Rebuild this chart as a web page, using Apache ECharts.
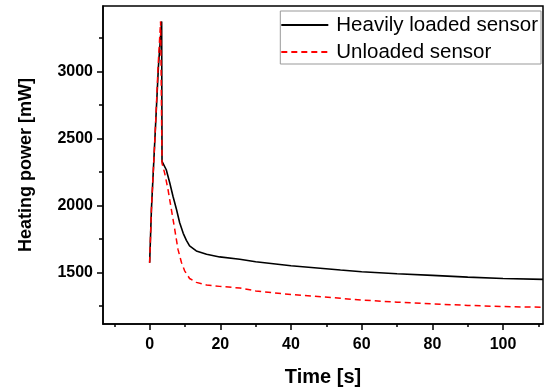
<!DOCTYPE html>
<html>
<head>
<meta charset="utf-8">
<script src="https://cdn.jsdelivr.net/npm/echarts@6/dist/echarts.min.js"></script>
<style>html,body{margin:0;padding:0;background:#fff}#c{width:545px;height:392px}</style>
</head>
<body>
<div id="c"></div>
<script>
// Time [s] and heating power [mW]
var loadedTime  = [0, 0.5, 1.6, 2.5, 3.4, 3.5, 3.8, 4.7, 5.7, 6.6, 7.6, 8.5, 9.5, 10.4, 11.3, 13.2, 16.1, 19.8, 25.5, 30, 40, 54, 60, 70, 80, 90, 100, 111.3];
var loadedPower = [1573, 1970, 2560, 3045, 3375, 2330, 2316, 2267, 2168, 2069, 1970, 1871, 1792, 1740, 1698, 1661, 1636, 1616, 1599, 1580, 1550, 1518, 1505, 1490, 1478, 1465, 1455, 1448];
var unloadedTime  = [0, 0.5, 1.6, 2.4, 3.1, 3.5, 4.25, 5.2, 6.15, 7.1, 8.0, 9.0, 9.9, 11.3, 13.2, 16.1, 19.8, 25.5, 30, 40, 54, 60, 70, 80, 90, 100, 111.3];
var unloadedPower = [1573, 1970, 2560, 3045, 3375, 2316, 2242, 2119, 1970, 1822, 1674, 1574, 1512, 1455, 1426, 1406, 1396, 1384, 1362, 1335, 1307, 1294, 1278, 1265, 1254, 1245, 1240];
var xMajorTicks = [0, 20, 40, 60, 80, 100];
var xMinorTicks = [-10, 10, 30, 50, 70, 90, 110];
var yMajorTicks = [1500, 2000, 2500, 3000];
var yMinorTicks = [1250, 1750, 2250, 2750, 3250];
var seriesNames = ['Heavily loaded sensor', 'Unloaded sensor'];

function pairs(xs, ys) { return xs.map(function (x, i) { return [x, ys[i]]; }); }

var font = 'Arial, "Liberation Sans", sans-serif';
var XMIN = -13.2, XMAX = 111.3, YMIN = 1115, YMAX = 3490;
var chart = echarts.init(document.getElementById('c'), null, {renderer: 'canvas'});
chart.setOption({
  animation: false,
  backgroundColor: '#fff',
  grid: {left: 103, right: 2, top: 6, bottom: 63, show: true, borderColor: '#000', borderWidth: 1.5, backgroundColor: 'transparent'},
  legend: {
    orient: 'vertical', right: 4, top: 11,
    padding: [3, 3, 1, 0], itemGap: 5,
    itemWidth: 47, itemHeight: 14,
    borderColor: '#999', borderWidth: 1, backgroundColor: '#fff',
    itemStyle: {opacity: 0},
    textStyle: {fontFamily: font, fontSize: 20.5, color: '#000', padding: [0, 0, 0, 3], lineHeight: 22},
    data: seriesNames
  },
  xAxis: [{
    type: 'value', min: XMIN, max: XMAX, position: 'bottom',
    name: 'Time [s]', nameLocation: 'middle', nameGap: 43,
    nameTextStyle: {fontFamily: font, fontSize: 20, fontWeight: 'bold', color: '#000'},
    axisLine: {show: true, onZero: false, lineStyle: {color: '#000', width: 1.5}},
    axisTick: {show: true, customValues: xMajorTicks, length: 6, lineStyle: {color: '#000', width: 1.5}},
    axisLabel: {customValues: xMajorTicks, formatter: function (v) { return String(v); }, fontFamily: font, fontSize: 16, fontWeight: 'bold', color: '#000', margin: 13},
    splitLine: {show: false}
  }, {
    type: 'value', min: XMIN, max: XMAX, position: 'bottom',
    axisLine: {show: false, onZero: false},
    axisTick: {show: true, customValues: xMinorTicks, length: 3, lineStyle: {color: '#000', width: 1.5}},
    axisLabel: {show: false}, splitLine: {show: false}
  }],
  yAxis: [{
    type: 'value', min: YMIN, max: YMAX, position: 'left',
    name: 'Heating power [mW]', nameLocation: 'middle', nameGap: 68,
    nameTextStyle: {fontFamily: font, fontSize: 18, fontWeight: 'bold', color: '#000'},
    axisLine: {show: true, onZero: false, lineStyle: {color: '#000', width: 1.5}},
    axisTick: {show: true, customValues: yMajorTicks, length: 6, lineStyle: {color: '#000', width: 1.5}},
    axisLabel: {customValues: yMajorTicks, formatter: function (v) { return String(v); }, fontFamily: font, fontSize: 16, fontWeight: 'bold', color: '#000', margin: 10},
    splitLine: {show: false}
  }, {
    type: 'value', min: YMIN, max: YMAX, position: 'left',
    axisLine: {show: false, onZero: false},
    axisTick: {show: true, customValues: yMinorTicks, length: 4, lineStyle: {color: '#000', width: 1.5}},
    axisLabel: {show: false}, splitLine: {show: false}
  }],
  series: [{
    name: seriesNames[0], type: 'line', xAxisIndex: 0, yAxisIndex: 0,
    data: pairs(loadedTime, loadedPower), symbol: 'none', smooth: false,
    lineStyle: {color: '#000', width: 1.6}, itemStyle: {color: '#000'}
  }, {
    name: seriesNames[1], type: 'line', xAxisIndex: 0, yAxisIndex: 0,
    data: pairs(unloadedTime, unloadedPower), symbol: 'none', smooth: false,
    lineStyle: {color: '#ff0000', width: 1.5, type: [6, 4]}, itemStyle: {color: '#ff0000'}
  }]
});
</script>
</body>
</html>
